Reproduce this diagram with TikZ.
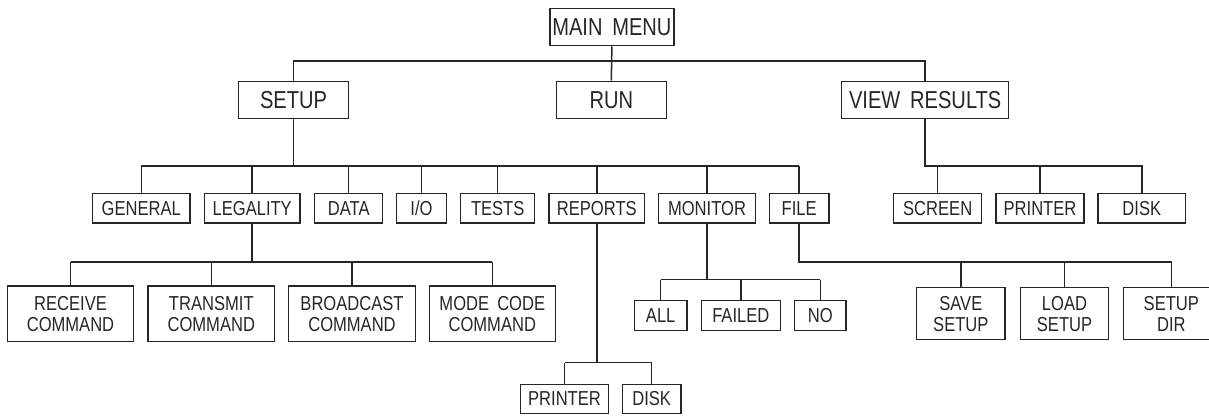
\documentclass[tikz,border=0pt]{standalone}
\usepackage{fontspec}
\setmainfont{Liberation Sans}[FakeStretch=0.82]
\definecolor{ink}{HTML}{262626}
\newcommand{\wsp}{\hspace{0.4em}}
\begin{document}
\begin{tikzpicture}[x=1pt, y=-1pt,
  box/.style={draw=ink, line width=1.5pt, inner sep=0pt, text=ink, align=center},
  bw/.style={minimum width=#1pt},
  bh/.style={minimum height=#1pt},
  big/.style={box, bh=37.4, font=\fontsize{24.5}{25}\selectfont},
  small/.style={box, bh=29.7, font=\fontsize{20.2}{21}\selectfont},
  tall/.style={box, font=\fontsize{20.2}{21}\selectfont},
  link/.style={draw=ink, line width=1.5pt}]
\clip (0,0) rectangle (1209,415);

% top level
\node[big, bw=123.7] (main) at (611.9,27) {MAIN\wsp MENU};
\node[big, bw=109.6] (setup) at (293.5,100) {SETUP};
\node[big, bw=110] (run) at (611.3,100) {RUN};
\node[big, bw=167] (view) at (925.2,100) {VIEW\wsp RESULTS};

% setup submenu
\node[small, bw=97.3] (general) at (141.3,208.2) {GENERAL};
\node[small, bw=95.7] (legality) at (252.2,208.2) {LEGALITY};
\node[small, bw=68] (data) at (348.7,208.2) {DATA};
\node[small, bw=49.6] (io) at (421.5,208.2) {I/O};
\node[small, bw=74] (tests) at (497.7,208.2) {TESTS};
\node[small, bw=95.7] (reports) at (596.8,208.2) {REPORTS};
\node[small, bw=96.6] (monitor) at (707,208.2) {MONITOR};
\node[small, bw=59.7] (file) at (799.2,208.2) {FILE};

% view results submenu
\node[small, bw=88] (screen) at (937.7,208.2) {SCREEN};
\node[small, bw=88] (printer) at (1040,208.2) {PRINTER};
\node[small, bw=87.7] (disk) at (1141.8,208.2) {DISK};

% legality submenu
\node[tall, bw=126.4, bh=55.7] (receive) at (70.5,313.8) {RECEIVE\\COMMAND};
\node[tall, bw=126.7, bh=55.7] (transmit) at (211.3,313.8) {TRANSMIT\\COMMAND};
\node[tall, bw=126.6, bh=55.7] (broadcast) at (352,313.8) {BROADCAST\\COMMAND};
\node[tall, bw=126, bh=55.7] (mode) at (492.3,313.8) {MODE\wsp CODE\\COMMAND};

% monitor submenu
\node[small, bw=52.7, bh=30] (all) at (660.7,315.3) {ALL};
\node[small, bw=79, bh=30] (failed) at (740.8,315.3) {FAILED};
\node[small, bw=51.3, bh=30] (no) at (820.3,315.3) {NO};

% file submenu
\node[tall, bw=88.3, bh=52] (save) at (960.8,313.7) {SAVE\\SETUP};
\node[tall, bw=88.4, bh=52] (load) at (1064.5,313.7) {LOAD\\SETUP};
\node[tall, bw=96, bh=52] (dir) at (1171.3,313.7) {SETUP\\DIR};

% reports submenu
\node[small, bw=87.6, bh=29.2] (rprinter) at (564.5,398.9) {PRINTER};
\node[small, bw=58.7, bh=29.2] (rdisk) at (651.7,398.9) {DISK};

% connectors
\draw[link] (main.south) -- (run.north);
\draw[link] (setup.north) -- ++(0,-19.6) -| (view.north);

\draw[link] (setup.south) -- ++(0,46.6) coordinate (sb);
\draw[link] (general.north |- sb) -- (file.north |- sb);
\foreach \n in {general,legality,data,io,tests,reports,monitor,file}
  \draw[link] (\n.north) -- (\n.north |- sb);

\draw[link] (view.south) -- ++(0,46.3) coordinate (vb) -| (disk.north);
\foreach \n in {screen,printer}
  \draw[link] (\n.north) -- (\n.north |- vb);

\draw[link] (legality.south) -- ++(0,38) coordinate (lb);
\draw[link] (receive.north |- lb) -- (mode.north |- lb);
\foreach \n in {receive,transmit,broadcast,mode}
  \draw[link] (\n.north) -- (\n.north |- lb);

\draw[link] (monitor.south) -- ++(0,55.7) coordinate (mb);
\draw[link] (all.north |- mb) -- (no.north |- mb);
\foreach \n in {all,failed,no}
  \draw[link] (\n.north) -- (\n.north |- mb);

\draw[link] (file.south) -- ++(0,38) coordinate (fb) -| (dir.north);
\foreach \n in {save,load}
  \draw[link] (\n.north) -- (\n.north |- fb);

\draw[link] (reports.south) -- ++(0,138.8) coordinate (rb);
\draw[link] (rprinter.north |- rb) -- (rdisk.north |- rb);
\foreach \n in {rprinter,rdisk}
  \draw[link] (\n.north) -- (\n.north |- rb);
\end{tikzpicture}
\end{document}
